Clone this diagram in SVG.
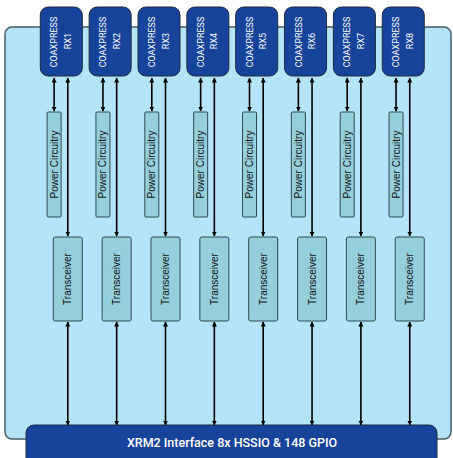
<svg xmlns="http://www.w3.org/2000/svg" width="453" height="458" viewBox="0 0 453 458">
<defs>
<marker id="ah" viewBox="0 0 10 10" refX="9" refY="5" markerWidth="5" markerHeight="5" orient="auto-start-reverse" markerUnits="userSpaceOnUse"><path d="M0,0 L10,5 L0,10 z" fill="#000"/></marker>
<style>
.panel{fill:#b3e4f8;stroke:#4a5a63;stroke-width:1.5}
.coax{fill:#17449b;stroke:#1e2a40;stroke-width:1}
.blk{fill:#94cfdb;stroke:#2f4a52;stroke-width:1}
.ct{font-family:Roboto,"Liberation Sans",sans-serif;font-size:9px;fill:#fff;text-anchor:middle}
.bt{font-family:"Liberation Sans",Arial,sans-serif;font-size:10px;fill:#111;text-anchor:middle}
.xt{font-family:Roboto,"Liberation Sans",sans-serif;font-size:12.5px;font-weight:500;fill:#fff;text-anchor:middle}
.ar{stroke:#000;stroke-width:1.6;fill:none;marker-start:url(#ah);marker-end:url(#ah)}
</style>
</defs>
<rect class="panel" x="5" y="27" width="446" height="412" rx="7"/>
<g id="connectors">
<g transform="translate(40.3,0)"><line class="ar" x1="13.8" y1="78" x2="13.8" y2="111"/><line class="ar" x1="27.5" y1="78" x2="27.5" y2="236"/><line class="ar" x1="27.5" y1="322" x2="27.5" y2="425"/></g>
<g transform="translate(89.15,0)"><line class="ar" x1="13.8" y1="78" x2="13.8" y2="111"/><line class="ar" x1="27.5" y1="78" x2="27.5" y2="236"/><line class="ar" x1="27.5" y1="322" x2="27.5" y2="425"/></g>
<g transform="translate(138,0)"><line class="ar" x1="13.8" y1="78" x2="13.8" y2="111"/><line class="ar" x1="27.5" y1="78" x2="27.5" y2="236"/><line class="ar" x1="27.5" y1="322" x2="27.5" y2="425"/></g>
<g transform="translate(186.85,0)"><line class="ar" x1="13.8" y1="78" x2="13.8" y2="111"/><line class="ar" x1="27.5" y1="78" x2="27.5" y2="236"/><line class="ar" x1="27.5" y1="322" x2="27.5" y2="425"/></g>
<g transform="translate(235.7,0)"><line class="ar" x1="13.8" y1="78" x2="13.8" y2="111"/><line class="ar" x1="27.5" y1="78" x2="27.5" y2="236"/><line class="ar" x1="27.5" y1="322" x2="27.5" y2="425"/></g>
<g transform="translate(284.55,0)"><line class="ar" x1="13.8" y1="78" x2="13.8" y2="111"/><line class="ar" x1="27.5" y1="78" x2="27.5" y2="236"/><line class="ar" x1="27.5" y1="322" x2="27.5" y2="425"/></g>
<g transform="translate(333.4,0)"><line class="ar" x1="13.8" y1="78" x2="13.8" y2="111"/><line class="ar" x1="27.5" y1="78" x2="27.5" y2="236"/><line class="ar" x1="27.5" y1="322" x2="27.5" y2="425"/></g>
<g transform="translate(382.25,0)"><line class="ar" x1="13.8" y1="78" x2="13.8" y2="111"/><line class="ar" x1="27.5" y1="78" x2="27.5" y2="236"/><line class="ar" x1="27.5" y1="322" x2="27.5" y2="425"/></g>
</g>
<g id="rx1" transform="translate(40.3,0)"><rect class="coax" x="0" y="7" width="42" height="69" rx="8"/><text class="ct" transform="translate(17,42) rotate(-90)">COAXPRESS</text><text class="ct" transform="translate(30.5,41) rotate(-90)">RX1</text></g>
<g id="rx2" transform="translate(89.15,0)"><rect class="coax" x="0" y="7" width="42" height="69" rx="8"/><text class="ct" transform="translate(17,42) rotate(-90)">COAXPRESS</text><text class="ct" transform="translate(30.5,41) rotate(-90)">RX2</text></g>
<g id="rx3" transform="translate(138,0)"><rect class="coax" x="0" y="7" width="42" height="69" rx="8"/><text class="ct" transform="translate(17,42) rotate(-90)">COAXPRESS</text><text class="ct" transform="translate(30.5,41) rotate(-90)">RX3</text></g>
<g id="rx4" transform="translate(186.85,0)"><rect class="coax" x="0" y="7" width="42" height="69" rx="8"/><text class="ct" transform="translate(17,42) rotate(-90)">COAXPRESS</text><text class="ct" transform="translate(30.5,41) rotate(-90)">RX4</text></g>
<g id="rx5" transform="translate(235.7,0)"><rect class="coax" x="0" y="7" width="42" height="69" rx="8"/><text class="ct" transform="translate(17,42) rotate(-90)">COAXPRESS</text><text class="ct" transform="translate(30.5,41) rotate(-90)">RX5</text></g>
<g id="rx6" transform="translate(284.55,0)"><rect class="coax" x="0" y="7" width="42" height="69" rx="8"/><text class="ct" transform="translate(17,42) rotate(-90)">COAXPRESS</text><text class="ct" transform="translate(30.5,41) rotate(-90)">RX6</text></g>
<g id="rx7" transform="translate(333.4,0)"><rect class="coax" x="0" y="7" width="42" height="69" rx="8"/><text class="ct" transform="translate(17,42) rotate(-90)">COAXPRESS</text><text class="ct" transform="translate(30.5,41) rotate(-90)">RX7</text></g>
<g id="rx8" transform="translate(382.25,0)"><rect class="coax" x="0" y="7" width="42" height="69" rx="8"/><text class="ct" transform="translate(17,42) rotate(-90)">COAXPRESS</text><text class="ct" transform="translate(30.5,41) rotate(-90)">RX8</text></g>
<g id="pc1" transform="translate(40.3,0)"><rect class="blk" x="6.8" y="112" width="14" height="105" rx="1"/><text class="bt" transform="translate(17.3,164.5) rotate(-90)">Power Circuitry</text></g>
<g id="pc2" transform="translate(89.15,0)"><rect class="blk" x="6.8" y="112" width="14" height="105" rx="1"/><text class="bt" transform="translate(17.3,164.5) rotate(-90)">Power Circuitry</text></g>
<g id="pc3" transform="translate(138,0)"><rect class="blk" x="6.8" y="112" width="14" height="105" rx="1"/><text class="bt" transform="translate(17.3,164.5) rotate(-90)">Power Circuitry</text></g>
<g id="pc4" transform="translate(186.85,0)"><rect class="blk" x="6.8" y="112" width="14" height="105" rx="1"/><text class="bt" transform="translate(17.3,164.5) rotate(-90)">Power Circuitry</text></g>
<g id="pc5" transform="translate(235.7,0)"><rect class="blk" x="6.8" y="112" width="14" height="105" rx="1"/><text class="bt" transform="translate(17.3,164.5) rotate(-90)">Power Circuitry</text></g>
<g id="pc6" transform="translate(284.55,0)"><rect class="blk" x="6.8" y="112" width="14" height="105" rx="1"/><text class="bt" transform="translate(17.3,164.5) rotate(-90)">Power Circuitry</text></g>
<g id="pc7" transform="translate(333.4,0)"><rect class="blk" x="6.8" y="112" width="14" height="105" rx="1"/><text class="bt" transform="translate(17.3,164.5) rotate(-90)">Power Circuitry</text></g>
<g id="pc8" transform="translate(382.25,0)"><rect class="blk" x="6.8" y="112" width="14" height="105" rx="1"/><text class="bt" transform="translate(17.3,164.5) rotate(-90)">Power Circuitry</text></g>
<g id="tr1" transform="translate(40.3,0)"><rect class="blk" x="13" y="237" width="29" height="84" rx="2"/><text class="bt" transform="translate(31,279) rotate(-90)">Transceiver</text></g>
<g id="tr2" transform="translate(89.15,0)"><rect class="blk" x="13" y="237" width="29" height="84" rx="2"/><text class="bt" transform="translate(31,279) rotate(-90)">Transceiver</text></g>
<g id="tr3" transform="translate(138,0)"><rect class="blk" x="13" y="237" width="29" height="84" rx="2"/><text class="bt" transform="translate(31,279) rotate(-90)">Transceiver</text></g>
<g id="tr4" transform="translate(186.85,0)"><rect class="blk" x="13" y="237" width="29" height="84" rx="2"/><text class="bt" transform="translate(31,279) rotate(-90)">Transceiver</text></g>
<g id="tr5" transform="translate(235.7,0)"><rect class="blk" x="13" y="237" width="29" height="84" rx="2"/><text class="bt" transform="translate(31,279) rotate(-90)">Transceiver</text></g>
<g id="tr6" transform="translate(284.55,0)"><rect class="blk" x="13" y="237" width="29" height="84" rx="2"/><text class="bt" transform="translate(31,279) rotate(-90)">Transceiver</text></g>
<g id="tr7" transform="translate(333.4,0)"><rect class="blk" x="13" y="237" width="29" height="84" rx="2"/><text class="bt" transform="translate(31,279) rotate(-90)">Transceiver</text></g>
<g id="tr8" transform="translate(382.25,0)"><rect class="blk" x="13" y="237" width="29" height="84" rx="2"/><text class="bt" transform="translate(31,279) rotate(-90)">Transceiver</text></g>
<g id="xrm2"><rect class="coax" x="26" y="425" width="411" height="45" rx="8"/><text class="xt" x="232" y="447">XRM2 Interface 8x HSSIO &amp; 148 GPIO</text></g>
</svg>
